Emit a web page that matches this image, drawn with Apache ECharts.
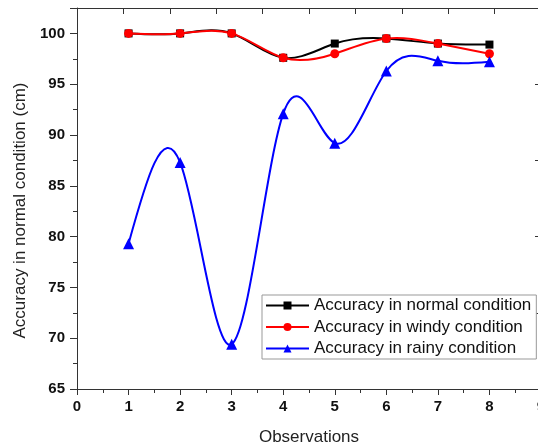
<!DOCTYPE html>
<html>
<head>
<meta charset="utf-8">
<script src="https://cdn.jsdelivr.net/npm/echarts@6/dist/echarts.min.js"></script>
<style>
  html, body { margin: 0; padding: 0; background: #fff; }
  #chart { width: 538px; height: 448px; }
</style>
</head>
<body>
<div id="chart"></div>
<script>
const observations = [1, 2, 3, 4, 5, 6, 7, 8]
const normalValues = [100, 100, 100, 97.6, 99.0, 99.5, 99.0, 98.9]
const windyValues = [100, 100, 100, 97.6, 98.0, 99.5, 99.0, 98.0]
const rainyValues = [79.3, 87.3, 69.4, 92.1, 89.2, 96.3, 97.3, 97.2]

const seriesNames = [
  'Accuracy in normal condition',
  'Accuracy in windy condition',
  'Accuracy in rainy condition'
]
const font = 'Liberation Sans, Arial, sans-serif'

// natural cubic spline slopes (dy/dx) at each point, like Origin's spline line
function splineSlopes (xs, ys) {
  const n = xs.length
  const a = [], b = [], c = [], d = []
  for (let i = 0; i < n; i++) {
    if (i === 0) {
      const h = xs[1] - xs[0]
      a.push(0); b.push(2 / h); c.push(1 / h); d.push(3 * (ys[1] - ys[0]) / (h * h))
    } else if (i === n - 1) {
      const h = xs[i] - xs[i - 1]
      a.push(1 / h); b.push(2 / h); c.push(0); d.push(3 * (ys[i] - ys[i - 1]) / (h * h))
    } else {
      const h0 = xs[i] - xs[i - 1]
      const h1 = xs[i + 1] - xs[i]
      a.push(1 / h0); b.push(2 * (1 / h0 + 1 / h1)); c.push(1 / h1)
      d.push(3 * ((ys[i] - ys[i - 1]) / (h0 * h0) + (ys[i + 1] - ys[i]) / (h1 * h1)))
    }
  }
  for (let i = 1; i < n; i++) {
    const w = a[i] / b[i - 1]
    b[i] -= w * c[i - 1]
    d[i] -= w * d[i - 1]
  }
  const m = new Array(n)
  m[n - 1] = d[n - 1] / b[n - 1]
  for (let i = n - 2; i >= 0; i--) {
    m[i] = (d[i] - c[i] * m[i + 1]) / b[i]
  }
  return m
}

function curveSeries (values, color, z) {
  const slopes = splineSlopes(observations, values)
  return {
    type: 'custom',
    z: z,
    silent: true,
    encode: { x: 0, y: 1 },
    data: observations.map((x, i) => [x, values[i]]),
    renderItem: function (params, api) {
      const i = params.dataIndex
      if (i >= observations.length - 1) return null
      const x0 = observations[i], x1 = observations[i + 1]
      const y0 = values[i], y1 = values[i + 1]
      const h = x1 - x0
      const p0 = api.coord([x0, y0])
      const p1 = api.coord([x1, y1])
      const c0 = api.coord([x0 + h / 3, y0 + slopes[i] * h / 3])
      const c1 = api.coord([x1 - h / 3, y1 - slopes[i + 1] * h / 3])
      return {
        type: 'bezierCurve',
        shape: {
          x1: p0[0], y1: p0[1], x2: p1[0], y2: p1[1],
          cpx1: c0[0], cpy1: c0[1], cpx2: c1[0], cpy2: c1[1]
        },
        style: { stroke: color, lineWidth: 2, fill: 'none' }
      }
    }
  }
}

function pointSeries (name, values, color, symbol, size) {
  return {
    name: name,
    type: 'line',
    z: 5,
    data: observations.map((x, i) => [x, values[i]]),
    symbol: symbol,
    symbolSize: size,
    showSymbol: true,
    color: color,
    itemStyle: { color: color },
    lineStyle: { color: color, width: 2, opacity: 0 }
  }
}

const chart = echarts.init(document.getElementById('chart'))
chart.setOption({
  animation: false,
  backgroundColor: '#fff',
  grid: { left: 77, top: 8, width: 464, height: 381, outerBoundsMode: 'none', containLabel: false },
  legend: {
    data: seriesNames,
    orient: 'vertical',
    left: 262,
    top: 295,
    padding: [2, 5, 2, 3],
    itemWidth: 43,
    itemHeight: 10,
    itemGap: 4.5,
    backgroundColor: '#fff',
    borderColor: '#999',
    borderWidth: 1,
    borderRadius: 0,
    lineStyle: { opacity: 1, width: 2 },
    textStyle: { fontFamily: font, fontSize: 17, lineHeight: 17, color: '#111' }
  },
  xAxis: [
    {
      type: 'value',
      min: 0,
      max: 9,
      interval: 1,
      name: 'Observations',
      nameLocation: 'middle',
      nameGap: 40,
      nameTextStyle: { fontFamily: font, fontSize: 17, color: '#222' },
      axisLine: { show: true, lineStyle: { color: '#333', width: 1 } },
      axisTick: { show: true, length: 6, lineStyle: { color: '#333' } },
      minorTick: { show: true, splitNumber: 2, length: 4, lineStyle: { color: '#333' } },
      axisLabel: { fontFamily: font, fontSize: 15, fontWeight: 'bold', color: '#111', margin: 10 },
      splitLine: { show: false }
    },
    {
      // frame on top, its own 0-10 scale as in the source figure
      type: 'value',
      position: 'top',
      min: 0,
      max: 10,
      interval: 1,
      axisLine: { show: true, onZero: false, lineStyle: { color: '#333', width: 1 } },
      axisTick: { show: true, inside: true, length: 6, lineStyle: { color: '#333' } },
      axisLabel: { show: false },
      splitLine: { show: false }
    }
  ],
  yAxis: [
    {
      type: 'value',
      min: 65,
      max: 102.5,
      interval: 5,
      name: 'Accuracy in normal condition (cm)',
      nameLocation: 'middle',
      nameGap: 47,
      nameTextStyle: { fontFamily: font, fontSize: 17, color: '#222', padding: [0, 24, 0, 0] },
      axisLine: { show: true, lineStyle: { color: '#333', width: 1 } },
      axisTick: { show: true, length: 7, lineStyle: { color: '#333' } },
      minorTick: { show: true, splitNumber: 2, length: 4, lineStyle: { color: '#333' } },
      axisLabel: { fontFamily: font, fontSize: 15, fontWeight: 'bold', color: '#111', margin: 12, showMaxLabel: false },
      splitLine: { show: false }
    },
    {
      // right frame, own 0-5 scale
      type: 'value',
      position: 'right',
      min: 0,
      max: 5,
      interval: 1,
      axisLine: { show: true, onZero: false, lineStyle: { color: '#333', width: 1 } },
      axisTick: { show: true, inside: true, length: 6, lineStyle: { color: '#333' } },
      minorTick: { show: true, splitNumber: 2, length: 3, lineStyle: { color: '#333' } },
      axisLabel: { show: false },
      splitLine: { show: false }
    }
  ],
  series: [
    curveSeries(normalValues, '#000000', 1),
    curveSeries(windyValues, '#ff0000', 2),
    curveSeries(rainyValues, '#0000ff', 3),
    pointSeries(seriesNames[0], normalValues, '#000000', 'rect', 8),
    pointSeries(seriesNames[1], windyValues, '#ff0000', 'circle', 9),
    pointSeries(seriesNames[2], rainyValues, '#0000ff', 'triangle', 11)
  ]
})
</script>
</body>
</html>
